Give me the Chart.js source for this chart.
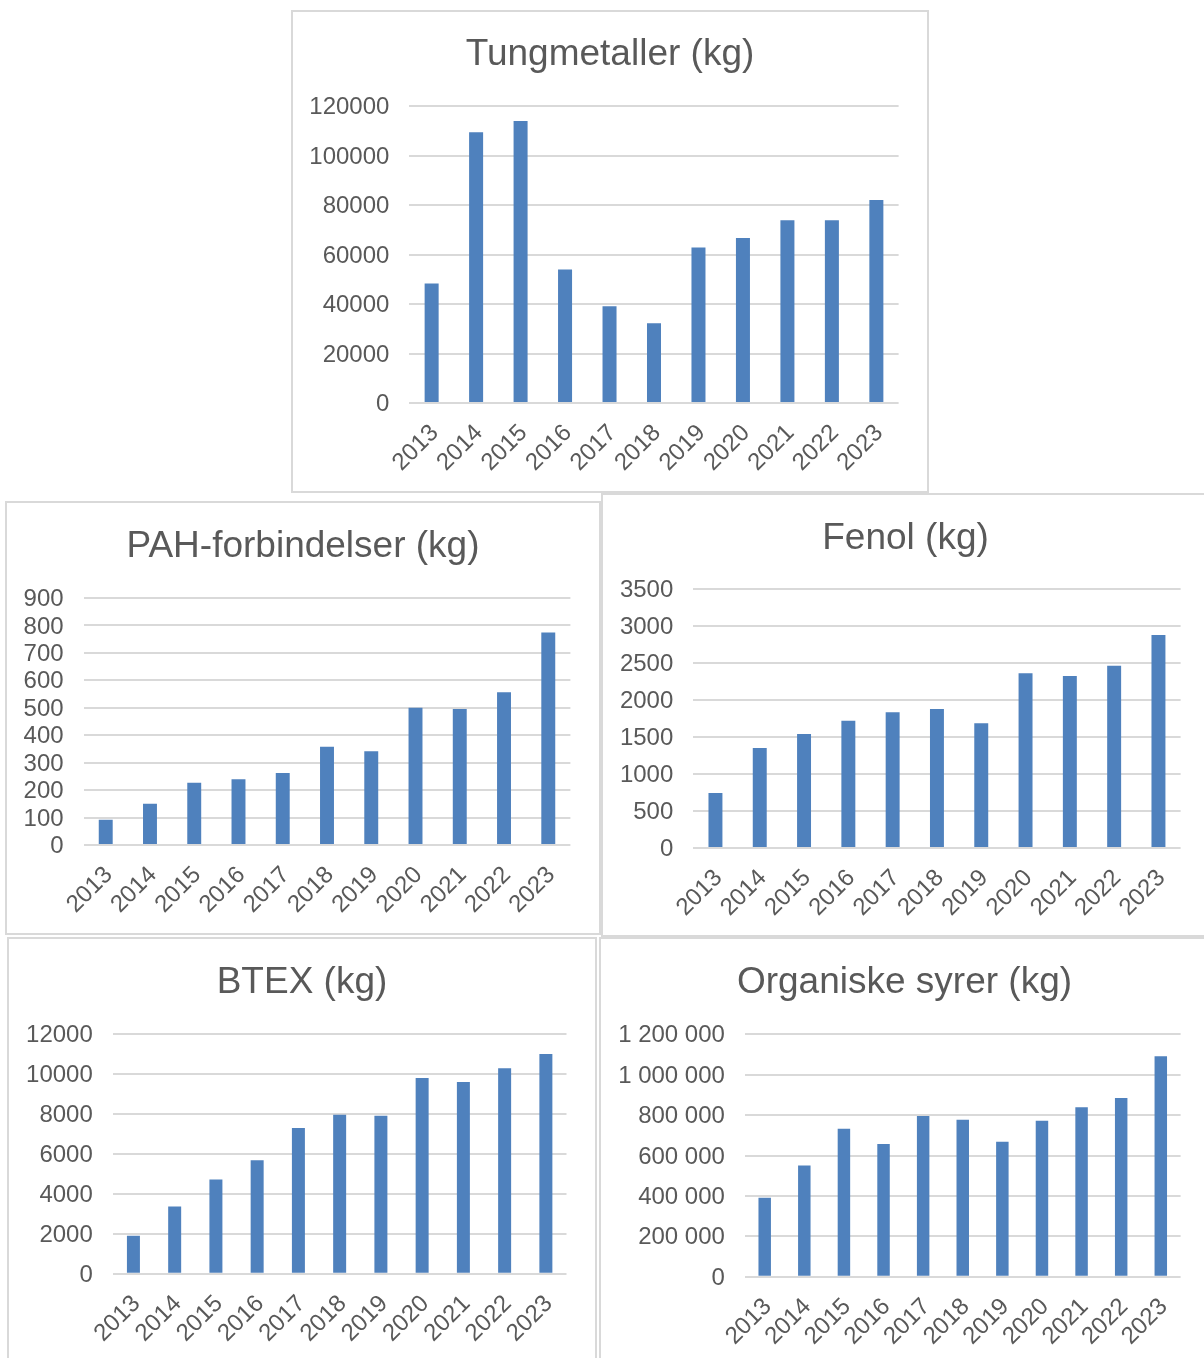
<!DOCTYPE html>
<html>
<head>
<meta charset="utf-8">
<script src="https://cdn.jsdelivr.net/npm/chart.js@4"></script>
<style>
  html, body { margin: 0; padding: 0; background: #ffffff; overflow: hidden; }
  body { width: 1204px; height: 1358px; position: relative; }
  .box { position: absolute; }
  .box canvas { position: absolute; left: 0; top: 0; }
  .frame { position: absolute; box-sizing: border-box; border: 2px solid #d9d9d9; pointer-events: none; }
</style>
</head>
<body>
<script>
// ---- data ----
const years = ['2013', '2014', '2015', '2016', '2017', '2018', '2019', '2020', '2021', '2022', '2023'];

const tungmetaller = [48300, 109400, 113900, 53900, 39100, 32200, 62800, 66700, 73800, 73800, 82000];
const pah = [92, 150, 227, 240, 262, 358, 342, 500, 496, 557, 774];
const fenol = [744, 1353, 1543, 1723, 1836, 1881, 1687, 2363, 2327, 2467, 2882];
const btex = [1900, 3370, 4720, 5680, 7290, 7960, 7910, 9800, 9600, 10280, 11000];
const organiske = [391000, 551000, 733000, 657000, 796000, 777000, 668000, 772000, 839000, 885000, 1091000];

const titles = ['Tungmetaller (kg)', 'PAH-forbindelser (kg)', 'Fenol (kg)', 'BTEX (kg)', 'Organiske syrer (kg)'];

// y-axis ranges: [max, step]
const tungAxis = [120000, 20000];
const pahAxis = [900, 100];
const fenolAxis = [3500, 500];
const btexAxis = [12000, 2000];
const orgAxis = [1200000, 200000];

// ---- style ----
const FONT = '"Liberation Sans", Arial, "DejaVu Sans", sans-serif';
const TEXT = '#595959';
const GRID = '#d9d9d9';
const BAR = '#4f81bd';
const TITLE_SIZE = 37;
const TICK_SIZE = 24;

function plainLabel(v) { return String(v); }
function spacedLabel(v) { return String(v).replace(/\B(?=(\d{3})+(?!\d))/g, ' '); }

function makeChart(cfg) {
  const wrap = document.createElement('div');
  wrap.className = 'box';
  wrap.style.left = cfg.x + 'px';
  wrap.style.top = cfg.y + 'px';
  wrap.style.width = cfg.w + 'px';
  wrap.style.height = cfg.h + 'px';
  const canvas = document.createElement('canvas');
  canvas.width = cfg.w;
  canvas.height = cfg.h;
  canvas.style.width = cfg.w + 'px';
  canvas.style.height = cfg.h + 'px';
  wrap.appendChild(canvas);
  document.body.appendChild(wrap);
  const frame = document.createElement('div');
  frame.className = 'frame';
  frame.style.left = cfg.x + 'px';
  frame.style.top = cfg.y + 'px';
  frame.style.width = cfg.w + 'px';
  frame.style.height = cfg.h + 'px';
  document.body.appendChild(frame);

  const lh = TITLE_SIZE * 1.2;
  const side = cfg.w - cfg.R;
  const tm = cfg.tm + 3;
  new Chart(canvas, {
    type: 'bar',
    data: {
      labels: years,
      datasets: [{
        data: cfg.values,
        backgroundColor: BAR,
        borderWidth: 0,
        barPercentage: 0.315,
        categoryPercentage: 1.0
      }]
    },
    options: {
      responsive: false,
      maintainAspectRatio: false,
      animation: false,
      devicePixelRatio: 1,
      layout: { padding: 0 },
      plugins: {
        legend: { display: false },
        tooltip: { enabled: false },
        title: {
          display: true,
          text: cfg.title,
          color: TEXT,
          font: { family: FONT, size: TITLE_SIZE, weight: 'normal', lineHeight: 1.2 },
          padding: { top: tm - lh / 2, bottom: cfg.T - lh - (tm - lh / 2) }
        }
      },
      scales: {
        x: {
          grid: { display: false, drawTicks: false },
          border: { display: false },
          ticks: {
            color: TEXT,
            font: { family: FONT, size: TICK_SIZE },
            minRotation: 45,
            maxRotation: 45,
            autoSkip: false,
            padding: 16,
            labelOffset: 3
          },
          afterFit: s => { s.height = cfg.h - cfg.B; }
        },
        y: {
          min: 0,
          max: cfg.axis[0],
          grid: { color: GRID, lineWidth: 2, drawTicks: false },
          border: { display: false },
          ticks: {
            stepSize: cfg.axis[1],
            autoSkip: false,
            color: TEXT,
            font: { family: FONT, size: TICK_SIZE },
            padding: 20,
            labelOffset: 1.5,
            callback: v => cfg.fmt(v)
          },
          afterFit: s => { s.width = cfg.L; }
        },
        // empty right-hand spacer axis so the plot ends where the reference does
        // while the title stays centred on the whole box
        spacer: {
          type: 'linear',
          position: 'right',
          display: true,
          grid: { display: false, drawTicks: false },
          border: { display: false },
          ticks: { display: false },
          afterFit: s => { s.width = side; }
        }
      }
    }
  });
}

const charts = [
  { x: 291, y: 10, w: 638, h: 483, L: 118.4, R: 607.6, T: 96, B: 393, tm: 41.8,
    values: tungmetaller, axis: tungAxis, title: titles[0], fmt: plainLabel },
  { x: 5, y: 501, w: 596, h: 434, L: 78.6, R: 565.4, T: 97, B: 344, tm: 43.2,
    values: pah, axis: pahAxis, title: titles[1], fmt: plainLabel },
  { x: 601, y: 493, w: 609, h: 444, L: 92.3, R: 579.6, T: 96.3, B: 355, tm: 43,
    values: fenol, axis: fenolAxis, title: titles[2], fmt: plainLabel },
  { x: 7, y: 937, w: 590, h: 431, L: 105.8, R: 559.5, T: 97, B: 336.7, tm: 42.7,
    values: btex, axis: btexAxis, title: titles[3], fmt: plainLabel },
  { x: 599, y: 937, w: 611, h: 431, L: 145.9, R: 581.6, T: 97.3, B: 339.7, tm: 42.7,
    values: organiske, axis: orgAxis, title: titles[4], fmt: spacedLabel }
];

charts.forEach(makeChart);
</script>
</body>
</html>
